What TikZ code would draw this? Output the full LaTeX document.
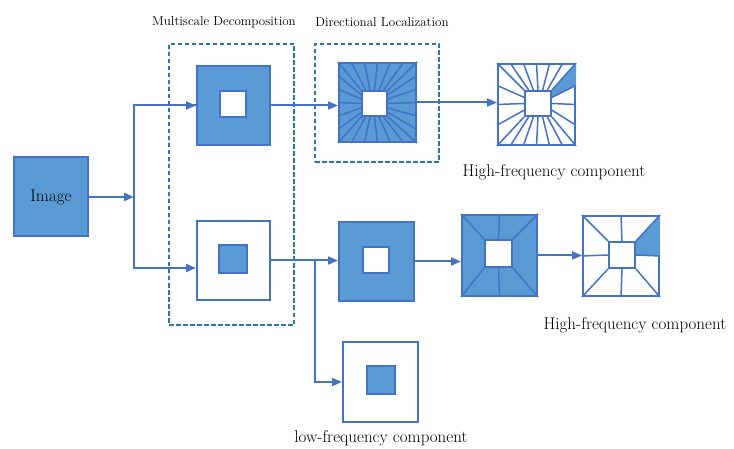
\documentclass[tikz,border=0pt]{standalone}
\usepackage{tikz}
\usetikzlibrary{arrows.meta,calc}
\definecolor{boxblue}{HTML}{5B9BD5}
\definecolor{lineblue}{HTML}{4472C4}
\definecolor{dashblue}{HTML}{2E75B6}
\tikzset{
  blk/.style={draw=lineblue, fill=boxblue, line width=2pt, inner sep=0pt},
  wbox/.style={draw=lineblue, fill=white, line width=2pt, inner sep=0pt},
  grp/.style={draw=dashblue, line width=1.6pt, dash pattern=on 4.5pt off 2.5pt, inner sep=0pt},
  ray/.style={draw=lineblue, line width=1.5pt},
  arr/.style={-{Triangle[length=10pt,width=8pt]}, line width=2pt, draw=lineblue},
  ln/.style={line width=2pt, draw=lineblue},
  lbl/.style={font=\fontsize{17}{20}\selectfont, inner sep=0pt},
  ttl/.style={font=\fontsize{13}{15}\selectfont, inner sep=0pt},
}
\newcommand{\fantb}[3]{%
  \foreach \t in {#3} {
    \draw[ray] ($(#2.north west)!\t!(#2.north east)$) -- ($(#1.north west)!\t!(#1.north east)$);
    \draw[ray] ($(#2.south west)!\t!(#2.south east)$) -- ($(#1.south west)!\t!(#1.south east)$);
  }}
\newcommand{\fanlr}[3]{%
  \foreach \t in {#3} {
    \draw[ray] ($(#2.north west)!\t!(#2.south west)$) -- ($(#1.north west)!\t!(#1.south west)$);
    \draw[ray] ($(#2.north east)!\t!(#2.south east)$) -- ($(#1.north east)!\t!(#1.south east)$);
  }}

\begin{document}
\begin{tikzpicture}[x=1pt, y=-1pt]
\useasboundingbox (0,0) rectangle (734,449);

\node[grp, minimum width=125pt, minimum height=281pt] (grpmd) at (231.5,184.5) {};
\node[grp, minimum width=124pt, minimum height=118pt] (grpdl) at (377,103) {};
\node[ttl] (tmd) at (224,22) {Multiscale Decomposition};
\node[ttl] (tdl) at (382,22) {Directional Localization};

\node[blk, minimum width=74pt, minimum height=79pt, font=\fontsize{17}{20}\selectfont] (img) at (51,197) {Image};
\coordinate (split) at (134,197);

\node[blk, minimum width=73pt, minimum height=79pt] (md1) at (233.5,105.5) {};
\node[wbox, minimum width=26pt, minimum height=26pt] (md1i) at (233,104) {};
\node[wbox, minimum width=73pt, minimum height=79pt] (md2) at (233.5,260.5) {};
\node[blk, minimum width=28pt, minimum height=28pt] (md2i) at (233,259) {};
\coordinate (md2in) at ($(md2.west)+(0,7.5)$);

\node[blk, minimum width=77pt, minimum height=79pt] (dl1) at (377.5,102.5) {};
\node[wbox, minimum width=25pt, minimum height=25pt] (dl1i) at (374.5,103.5) {};
\fantb{dl1}{dl1i}{0,0.1667,0.3333,0.5,0.6667,0.8333,1}
\fanlr{dl1}{dl1i}{0.1667,0.3333,0.5,0.6667,0.8333}

\node[wbox, minimum width=77pt, minimum height=81pt] (out1) at (536.5,104.5) {};
\node[wbox, minimum width=26pt, minimum height=25pt] (out1i) at (538,103.5) {};
\fill[boxblue] (out1.north east) -- (out1i.north east) -- ($(out1i.north east)!0.27!(out1i.south east)$) -- ($(out1.north east)!0.27!(out1.south east)$) -- cycle;
\fantb{out1}{out1i}{0,0.1667,0.3333,0.5,0.6667,0.8333,1}
\fanlr{out1}{out1i}{0.27,0.5,0.75}
\node[lbl] (hf1) at (554,172) {High-frequency component};

\node[blk, minimum width=75pt, minimum height=79pt] (lp1) at (376.5,261.5) {};
\node[wbox, minimum width=26pt, minimum height=26pt] (lp1i) at (376,260) {};
\node[wbox, minimum width=75pt, minimum height=80pt] (low) at (380.5,382) {};
\node[blk, minimum width=28pt, minimum height=28pt] (lowi) at (381,380) {};
\node[lbl] (lf) at (381,438) {low-frequency component};

\node[blk, minimum width=75pt, minimum height=81pt] (dl2) at (499.5,255.5) {};
\node[wbox, minimum width=27pt, minimum height=27pt] (dl2i) at (498.5,253.5) {};
\fantb{dl2}{dl2i}{0,0.5,1}

\node[wbox, minimum width=76pt, minimum height=80pt] (out2) at (621,256) {};
\node[wbox, minimum width=26pt, minimum height=26pt] (out2i) at (622,255) {};
\fill[boxblue] (out2.north east) -- (out2i.north east) -- (out2i.east) -- (out2.east) -- cycle;
\fantb{out2}{out2i}{0,0.5,1}
\fanlr{out2}{out2i}{0.5}
\node[lbl] (hf2) at (635,325) {High-frequency component};

\draw[arr] (img) -- (split);
\draw[ln] (split) |- (md1.west);
\draw[arr] (split |- md1.west) -- (md1.west);
\draw[arr] (split) |- (md2in);
\draw[arr] (md1.east) -- (md1.east -| dl1.west);
\draw[arr] (dl1.east) -- (dl1.east -| out1.west);
\draw[arr] (md2.east) -- (md2.east -| lp1.west);
\coordinate (j) at (315,260.5);
\draw[arr] (j) |- (low.west);
\draw[arr] (lp1.east) -- (lp1.east -| dl2.west);
\draw[arr] (dl2.east) -- (dl2.east -| out2.west);
\end{tikzpicture}
\end{document}
